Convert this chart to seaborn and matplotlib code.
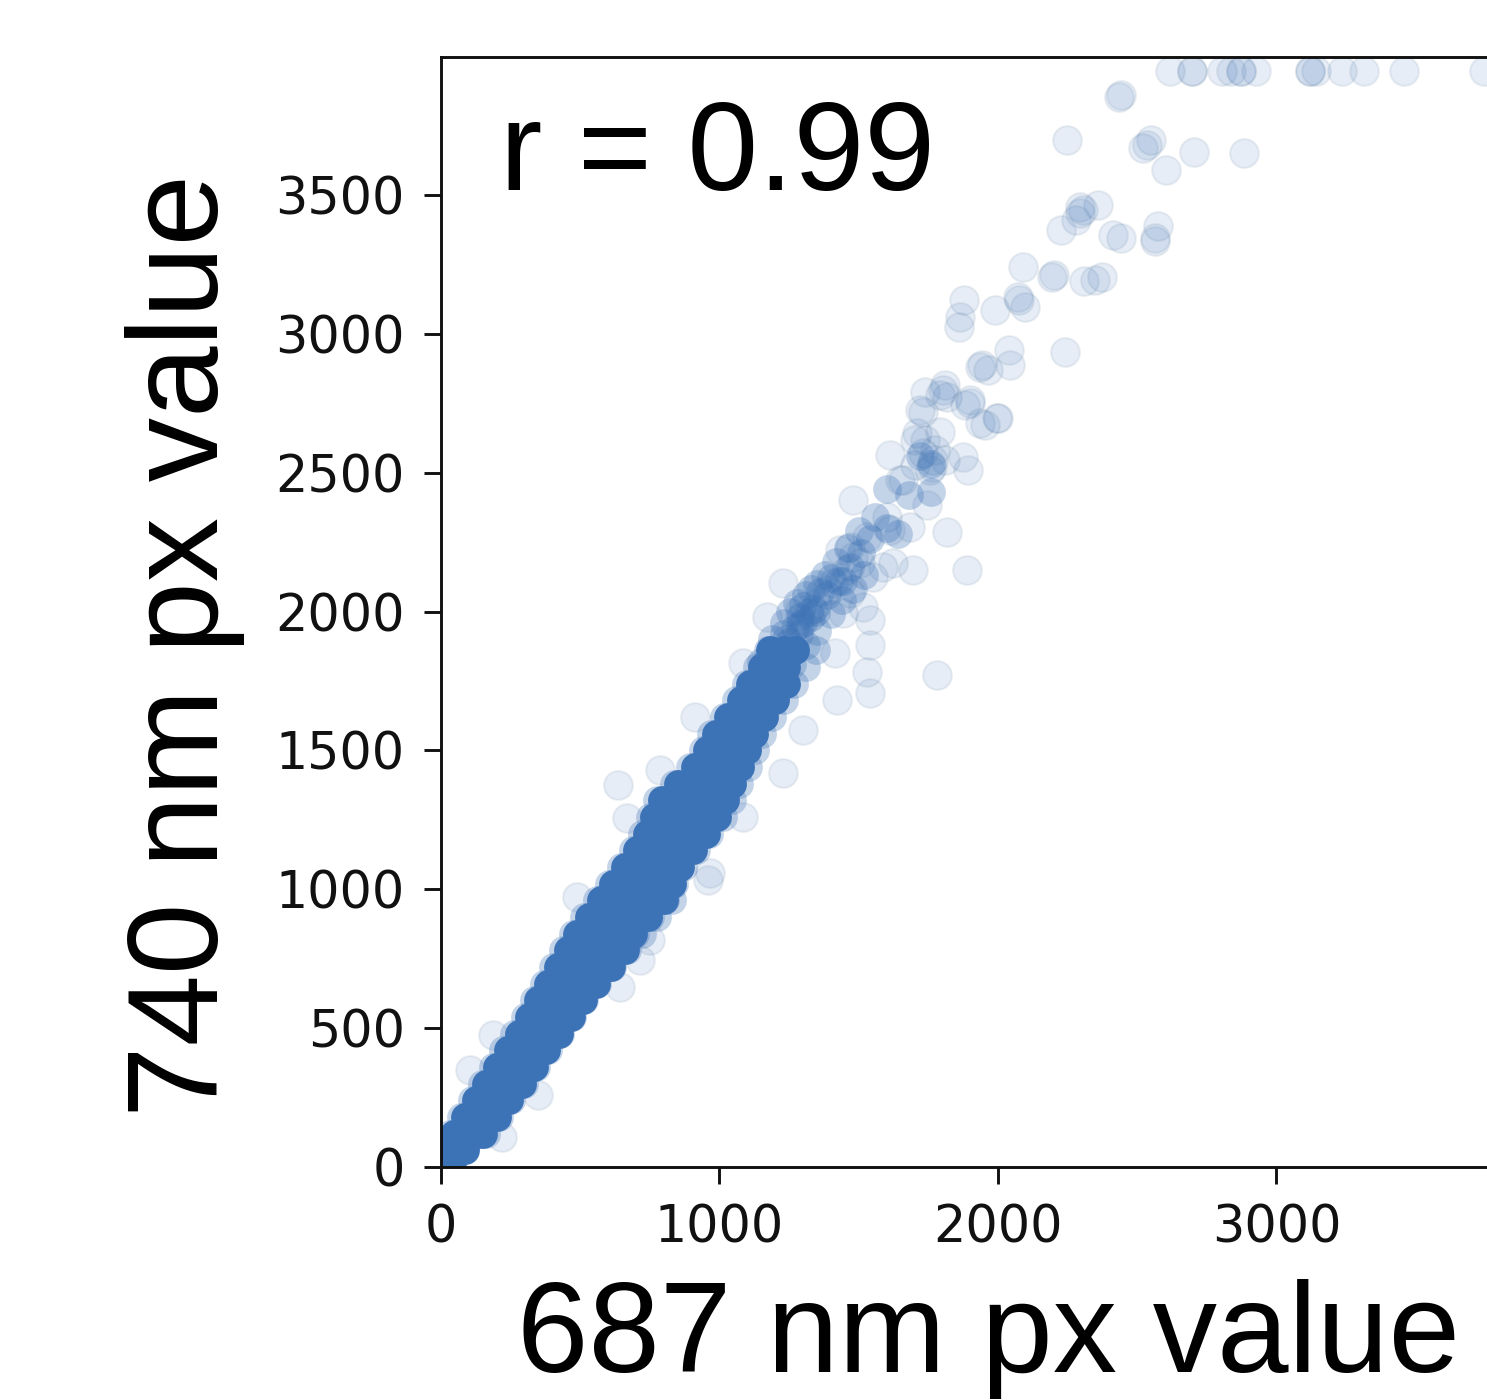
import pandas as pd

import matplotlib
matplotlib.use("Agg")
import matplotlib.pyplot as plt
import seaborn as sns

# isolated points
sparse_x = [2619, 2698, 2698, 2805, 2838, 2874, 2874, 2927, 3121, 3121, 3143, 3236, 3315, 3459, 3746,
            2435, 2443, 2248, 2550, 2522, 2535, 2604, 2705, 2884,
            2295, 2306, 2360, 2281, 2295, 2227, 2443, 2414, 2575, 2565, 2565,
            2090, 2195, 2202, 2310, 2374, 2349, 2073, 2076, 2098, 1990, 1879, 1864, 1861,
            2241, 2040, 2044, 1943, 1936, 1965,
            1900, 1882, 2001, 1954, 1810, 1739, 1792, 1721, 1792, 1739, 1703, 1774, 1810, 1757, 1893,
            1613, 1649, 1703, 1803, 1818, 1731, 1900, 1997, 1936, 1710, 1731, 1767, 1764, 1875, 1660,
            1480, 1746, 1602, 1818, 1889, 1685, 1696, 1613, 1530, 1469, 1480, 1433, 1505, 1552, 1588,
            1624, 1458, 1408, 1387, 1469, 1516, 1228, 1171, 1290, 1351, 1444, 1541,
            1530, 1541, 1422, 1085, 912, 1300, 1228, 787, 636, 668, 1085, 966, 1782,
            1541, 1415, 959, 488, 715, 643, 187, 104, 348, 219, 751]
sparse_y = [3945, 3945, 3945, 3945, 3945, 3945, 3945, 3945, 3945, 3945, 3945, 3945, 3945, 3945, 3945,
            3853, 3860, 3698, 3698, 3669, 3680, 3590, 3655, 3652,
            3457, 3446, 3464, 3410, 3435, 3374, 3345, 3356, 3389, 3335, 3345,
            3241, 3205, 3212, 3190, 3205, 3194, 3133, 3122, 3097, 3086, 3122, 3061, 3025,
            2935, 2942, 2888, 2888, 2881, 2870,
            2762, 2744, 2697, 2672, 2816, 2791, 2780, 2726, 2647, 2618, 2618, 2582, 2546, 2510, 2510,
            2564, 2474, 2528, 2798, 2773, 2719, 2751, 2697, 2679, 2643, 2571, 2546, 2521, 2557, 2474,
            2402, 2384, 2341, 2287, 2150, 2305, 2150, 2294, 2269, 2233, 2197, 2222, 2175, 2125, 2161,
            2175, 2150, 2103, 2078, 2067, 2017, 2103, 1980, 2006, 2031, 1995, 1970,
            1782, 1707, 1682, 1815, 1620, 1574, 1419, 1430, 1376, 1257, 1260, 1059, 1772,
            1880, 1850, 1033, 972, 745, 648, 475, 349, 259, 108, 817]

# the busier stretch where the band starts to break up, and the soft rim of the band
mid_x = [1150, 1200, 1260, 1190, 1250, 1310, 1230, 1290, 1350, 1280, 1340, 1400,
         1330, 1385, 1440, 1380, 1430, 1480, 1420, 1470, 1520, 1460, 1510, 1500, 1540,
         1560, 1600, 1640, 1600, 1680, 1760, 1720, 1760,
         1255, 1300, 1345, 1310, 1360, 1350, 1400, 1445,
         1230, 1285, 1290, 1330, 1240, 1300, 1270, 1320,
         33, 136, 110, 228, 186, 315, 263, 402, 334, 490, 404, 589, 474, 698, 559, 806,
         646, 868, 722, 964, 776, 1046, 895, 1102, 970, 1152, 1060, 1230, 1135, 1309,
         71, 183, 147, 272, 224, 358, 300, 446, 369, 535, 439, 643, 515, 752, 602, 836,
         689, 916, 749, 1012, 835, 1070, 940, 1128, 1015, 1190, 1095, 1269, 1175, 1346,
         161, 253, 340, 427, 515, 614, 723, 831, 208, 297, 383, 471, 560, 668, 777]
mid_y = [1820, 1830, 1810, 1900, 1890, 1880, 1960, 1950, 1930, 2030, 2010, 1990,
         2080, 2060, 2040, 2130, 2110, 2080, 2180, 2160, 2130, 2230, 2210, 2290, 2260,
         2340, 2300, 2280, 2440, 2420, 2430, 2560, 2530,
         2000, 2020, 2000, 2060, 2070, 2100, 2120, 2110,
         1920, 1920, 1980, 1980, 1900, 1960, 1940, 2000,
         120, 120, 240, 240, 360, 360, 480, 480, 600, 600, 720, 720, 840, 840, 960, 960,
         1080, 1080, 1200, 1200, 1320, 1320, 1440, 1440, 1560, 1560, 1680, 1680, 1800, 1800,
         180, 180, 300, 300, 420, 420, 540, 540, 660, 660, 780, 780, 900, 900, 1020, 1020,
         1140, 1140, 1260, 1260, 1380, 1380, 1500, 1500, 1620, 1620, 1740, 1740, 1860, 1860,
         120, 240, 360, 480, 600, 720, 840, 960, 180, 300, 420, 540, 660, 780, 900]

# solid part of the band
core_x = [0, 40,
          10, 60, 85,
          45, 90, 130, 150,
          85, 130, 178, 200,
          125, 170, 222, 245,
          163, 210, 265, 290,
          202, 255, 310, 335,
          240, 295, 352, 378,
          279, 335, 395, 422,
          316, 375, 440, 466,
          350, 415, 485, 510,
          385, 455, 530, 555,
          420, 495, 585, 610,
          455, 535, 590, 640, 660,
          490, 565, 640, 690,
          531, 605, 680, 745,
          575, 650, 725, 800,
          618, 685, 760, 830,
          662, 730, 795, 860,
          705, 770, 840, 905,
          738, 810, 880, 950,
          765, 835, 910, 990,
          795, 865, 945, 1020,
          851, 915, 985, 1045,
          911, 965, 1020, 1075,
          956, 1005, 1055, 1100,
          986, 1040, 1090, 1125,
          1031, 1080, 1125, 1160,
          1076, 1120, 1160, 1200,
          1111, 1155, 1195, 1240,
          1151, 1195, 1240,
          1180, 1230, 1270]
core_y = [0, 0,
          60, 60, 60,
          120, 120, 120, 120,
          180, 180, 180, 180,
          240, 240, 240, 240,
          300, 300, 300, 300,
          360, 360, 360, 360,
          420, 420, 420, 420,
          480, 480, 480, 480,
          540, 540, 540, 540,
          600, 600, 600, 600,
          660, 660, 660, 660,
          720, 720, 720, 720,
          780, 780, 800, 780, 780,
          840, 840, 840, 840,
          900, 900, 900, 900,
          960, 960, 960, 960,
          1020, 1020, 1020, 1020,
          1080, 1080, 1080, 1080,
          1140, 1140, 1140, 1140,
          1200, 1200, 1200, 1200,
          1260, 1260, 1260, 1260,
          1320, 1320, 1320, 1320,
          1380, 1380, 1380, 1380,
          1440, 1440, 1440, 1440,
          1500, 1500, 1500, 1500,
          1560, 1560, 1560, 1560,
          1620, 1620, 1620, 1620,
          1680, 1680, 1680, 1680,
          1740, 1740, 1740, 1740,
          1800, 1800, 1800,
          1860, 1860, 1860]

x_ticks = [0, 1000, 2000, 3000]
y_ticks = [0, 500, 1000, 1500, 2000, 2500, 3000, 3500]

sparse = pd.DataFrame({"x": sparse_x, "y": sparse_y})
mid = pd.DataFrame({"x": mid_x, "y": mid_y})
core = pd.DataFrame({"x": core_x, "y": core_y})

sns.set_style("ticks")
plt.rcParams["font.family"] = ["DejaVu Sans"]

blue = "#3c72b6"
W, H = 1487, 1400

fig = plt.figure(figsize=(W / 100, H / 100), dpi=100)
# the right part of the axes runs off the canvas, as in the original crop
ax = fig.add_axes([441 / W, (H - 1167) / H, 1113 / W, 1110 / H])

sns.scatterplot(data=sparse, x="x", y="y", ax=ax, s=430, color=blue, alpha=0.12, linewidth=1.5, edgecolor="#5f7f9f")
sns.scatterplot(data=mid, x="x", y="y", ax=ax, s=430, color=blue, alpha=0.3, linewidth=0)
sns.scatterplot(data=core, x="x", y="y", ax=ax, s=430, color=blue, alpha=1, linewidth=0)

ax.set_xlim(0, 3997)
ax.set_ylim(0, 3997)
ax.set_xticks(x_ticks)
ax.set_yticks(y_ticks)
ax.tick_params(labelsize=36.5, length=12, width=2.1, color="#111111", labelcolor="#111111", pad=14)
for spine in ax.spines.values():
    spine.set_linewidth(2.1)
    spine.set_color("#111111")
    spine.set_visible(True)

ax.set_xlabel("687 nm px value", fontsize=92.5, family="Liberation Sans", color="black")
ax.set_ylabel("740 nm px value", fontsize=92.5, family="Liberation Sans", color="black")
ax.xaxis.set_label_coords(0.492, -0.101)
ax.yaxis.set_label_coords(-0.176, 0.47)
ax.text(0.053, 0.91, "r = 0.99", fontsize=91.5, family="Liberation Sans", color="black",
        va="center", ha="left", transform=ax.transAxes)

fig.savefig("out.png", dpi=100)
